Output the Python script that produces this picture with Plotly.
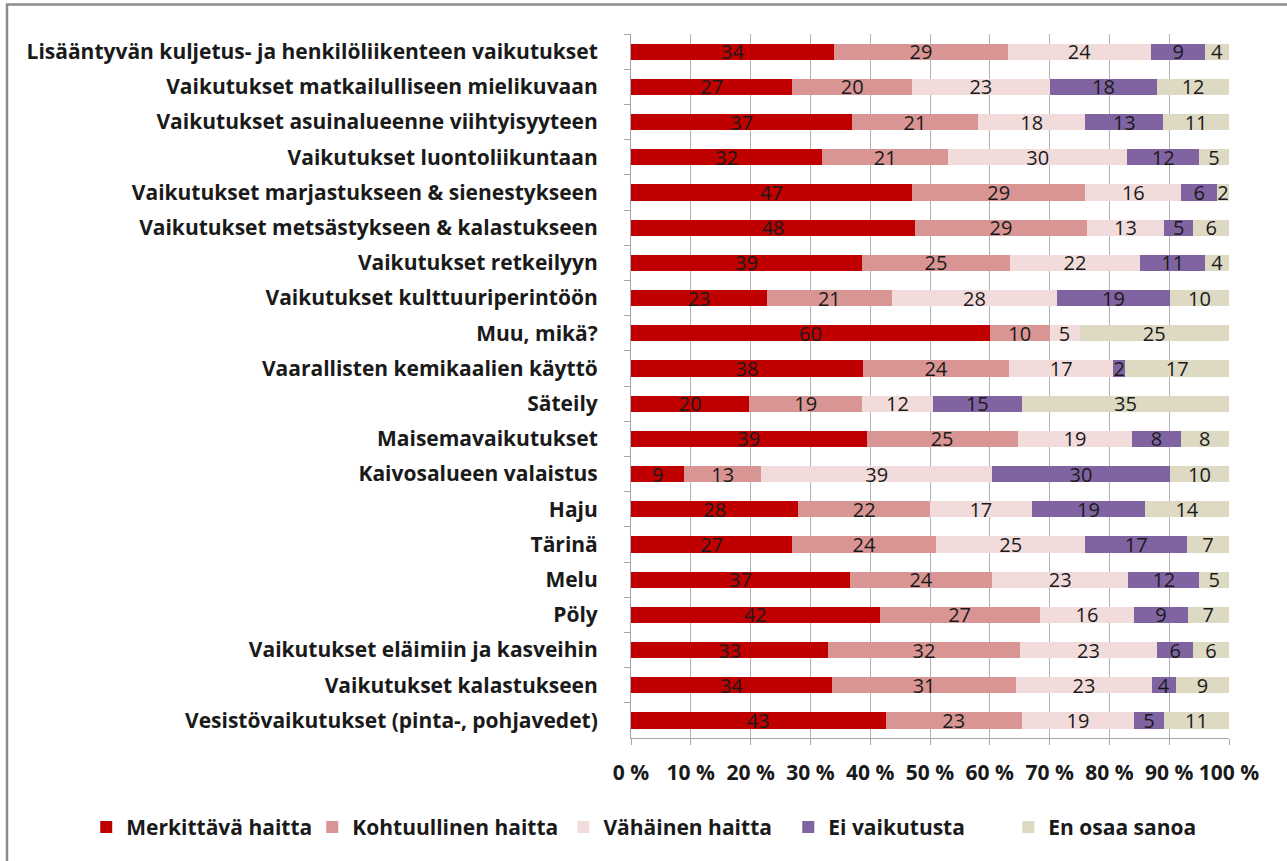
import plotly.graph_objects as go

categories = [
    "Lisääntyvän kuljetus- ja henkilöliikenteen vaikutukset",
    "Vaikutukset matkailulliseen mielikuvaan",
    "Vaikutukset asuinalueenne viihtyisyyteen",
    "Vaikutukset luontoliikuntaan",
    "Vaikutukset marjastukseen & sienestykseen",
    "Vaikutukset metsästykseen & kalastukseen",
    "Vaikutukset retkeilyyn",
    "Vaikutukset kulttuuriperintöön",
    "Muu, mikä?",
    "Vaarallisten kemikaalien käyttö",
    "Säteily",
    "Maisemavaikutukset",
    "Kaivosalueen valaistus",
    "Haju",
    "Tärinä",
    "Melu",
    "Pöly",
    "Vaikutukset eläimiin ja kasveihin",
    "Vaikutukset kalastukseen",
    "Vesistövaikutukset (pinta-, pohjavedet)",
]

merkittava = [34, 27, 37, 32, 47, 48, 39, 23, 60, 38, 20, 39, 9, 28, 27, 37, 42, 33, 34, 43]
kohtuullinen = [29, 20, 21, 21, 29, 29, 25, 21, 10, 24, 19, 25, 13, 22, 24, 24, 27, 32, 31, 23]
vahainen = [24, 23, 18, 30, 16, 13, 22, 28, 5, 17, 12, 19, 39, 17, 25, 23, 16, 23, 23, 19]
ei_vaikutusta = [9, 18, 13, 12, 6, 5, 11, 19, 0, 2, 15, 8, 30, 19, 17, 12, 9, 6, 4, 5]
en_osaa = [4, 12, 11, 5, 2, 6, 4, 10, 25, 17, 35, 8, 10, 14, 7, 5, 7, 6, 9, 11]

series = [
    ("Merkittävä haitta", merkittava, "#C00000"),
    ("Kohtuullinen haitta", kohtuullinen, "#D99594"),
    ("Vähäinen haitta", vahainen, "#F2DCDB"),
    ("Ei vaikutusta", ei_vaikutusta, "#8064A2"),
    ("En osaa sanoa", en_osaa, "#DDD9C3"),
]

x_ticks = list(range(0, 101, 10))
x_ticktext = [f"{v} %" for v in x_ticks]

FONT = "Open Sans"

# one single-entry legend per series, laid out along the bottom (paper x)
legend_x = [-0.911, -0.533, -0.113, 0.263, 0.631]
legend_ids = ["legend", "legend2", "legend3", "legend4", "legend5"]

fig = go.Figure()
for (name, vals, color), lid in zip(series, legend_ids):
    fig.add_trace(go.Bar(
        y=categories,
        x=vals,
        name=name,
        orientation="h",
        legend=lid,
        marker=dict(color=color, line=dict(width=0)),
        text=[str(v) if v > 0 else "" for v in vals],
        texttemplate="%{text}",
        textposition="inside",
        insidetextanchor="middle",
        textangle=0,
        constraintext="none",
        textfont=dict(family=FONT, size=20, color="#1a1a1a"),
        width=0.46,
    ))

legend_style = dict(
    orientation="h",
    y=-0.127,
    xanchor="left",
    yanchor="middle",
    font=dict(family=FONT, size=21, color="#1a1a1a", weight="bold"),
    itemwidth=30,
    bgcolor="rgba(0,0,0,0)",
)

fig.update_layout(
    barmode="stack",
    barnorm="percent",
    width=1287,
    height=861,
    margin=dict(l=631, r=58, t=34, b=123, pad=0),
    paper_bgcolor="white",
    plot_bgcolor="white",
    uniformtext=dict(minsize=8, mode="show"),
    showlegend=True,
    shapes=[dict(
        type="rect", xref="paper", yref="paper",
        x0=-1.0435, x1=1.2, y0=-0.2, y1=1.0418,
        line=dict(color="#8c8c8c", width=2.5),
        fillcolor="rgba(0,0,0,0)",
        layer="below",
    )],
)
for lid, lx in zip(legend_ids, legend_x):
    fig.update_layout({lid: dict(x=lx, **legend_style)})

fig.update_xaxes(
    range=[0, 100],
    tickvals=x_ticks,
    ticktext=x_ticktext,
    showgrid=True,
    gridcolor="#b3b3b3",
    gridwidth=1,
    showline=True,
    linecolor="#a6a6a6",
    linewidth=1,
    ticks="outside",
    ticklen=6,
    tickcolor="#a6a6a6",
    ticklabelstandoff=10,
    tickfont=dict(family=FONT, size=21, color="#1a1a1a", weight="bold"),
    zeroline=False,
    fixedrange=True,
)

fig.update_yaxes(
    autorange="reversed",
    showline=True,
    linecolor="#a6a6a6",
    linewidth=1,
    ticks="outside",
    tickson="boundaries",
    ticklen=6,
    tickcolor="#a6a6a6",
    ticklabelstandoff=28,
    tickfont=dict(family=FONT, size=21, color="#1a1a1a", weight="bold"),
    showgrid=False,
    fixedrange=True,
)

fig.write_html("out.html")
